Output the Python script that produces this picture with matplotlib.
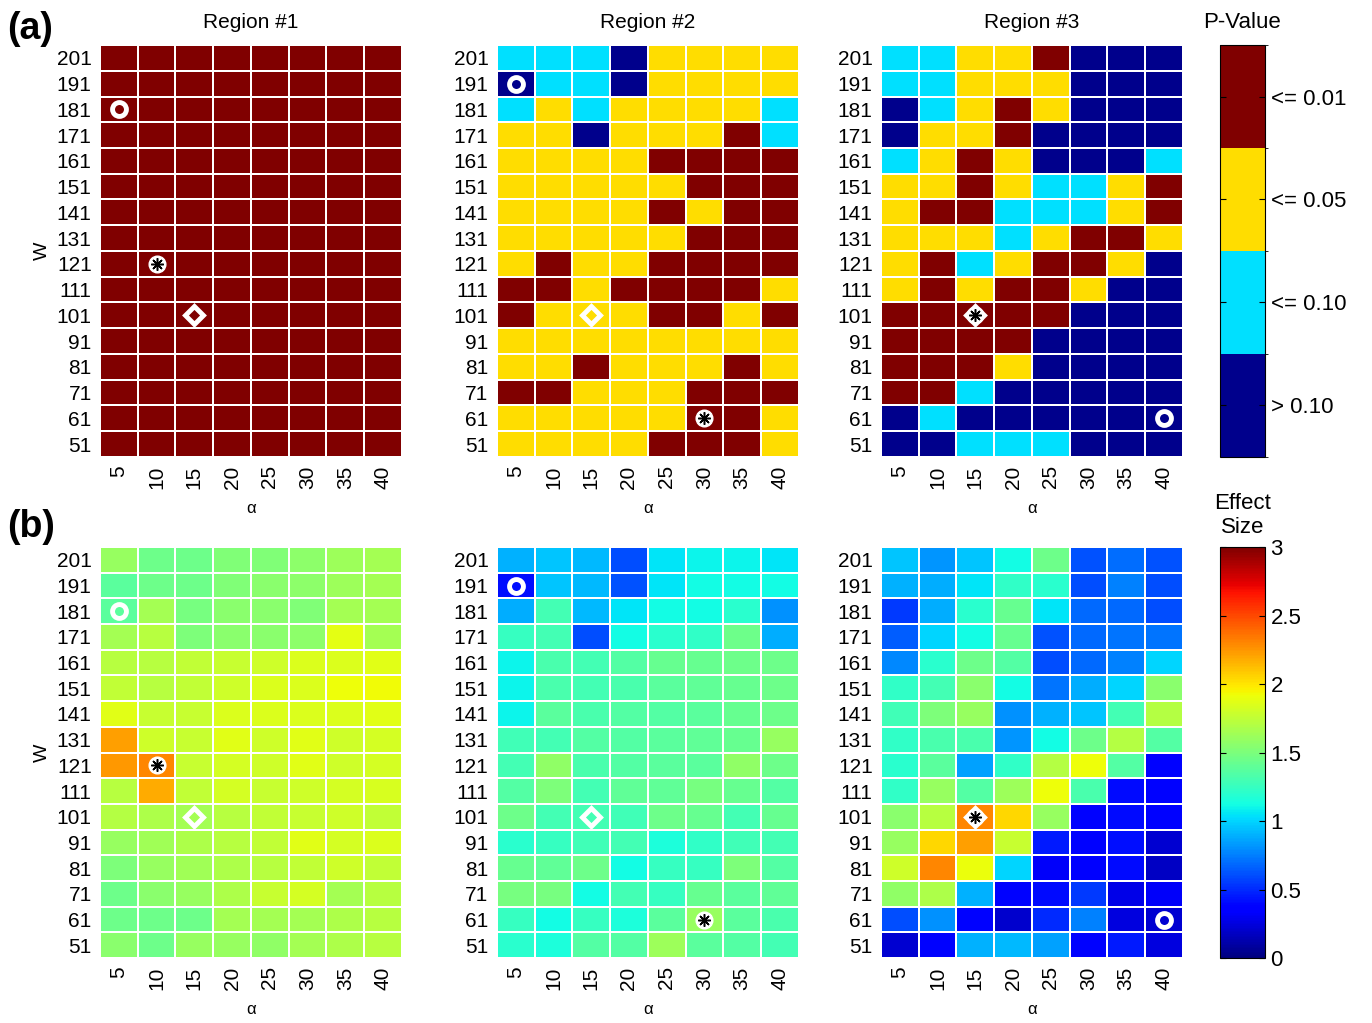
# Heatmaps of P-value categories (a) and effect size (b) over alpha and W
import matplotlib.pyplot as plt
from matplotlib.colors import ListedColormap, BoundaryNorm
import numpy as np

plt.rcParams['font.family'] = ['Liberation Sans', 'DejaVu Sans']

alphas = [5, 10, 15, 20, 25, 30, 35, 40]
w_vals = [201, 191, 181, 171, 161, 151, 141, 131, 121, 111, 101, 91, 81, 71, 61, 51]
regions = ['Region #1', 'Region #2', 'Region #3']

# P-value class: 0 = > 0.10, 1 = <= 0.10, 2 = <= 0.05, 3 = <= 0.01 (rows top to bottom, W = 201 ... 51)
pclass_r1 = [[3] * 8 for _ in range(16)]
pclass_r2 = [
    [1, 1, 1, 0, 2, 2, 2, 2],
    [0, 1, 1, 0, 2, 2, 2, 2],
    [1, 2, 1, 2, 2, 2, 2, 1],
    [2, 2, 0, 2, 2, 2, 3, 1],
    [2, 2, 2, 2, 3, 3, 3, 3],
    [2, 2, 2, 2, 2, 3, 3, 3],
    [2, 2, 2, 2, 3, 2, 3, 3],
    [2, 2, 2, 2, 2, 3, 3, 3],
    [2, 3, 2, 2, 3, 3, 3, 3],
    [3, 3, 2, 3, 3, 3, 3, 2],
    [3, 2, 2, 2, 3, 3, 2, 3],
    [2, 2, 2, 2, 2, 2, 2, 2],
    [2, 2, 3, 2, 2, 2, 3, 2],
    [3, 3, 2, 2, 2, 3, 3, 3],
    [2, 2, 2, 2, 2, 3, 3, 2],
    [2, 2, 2, 2, 3, 3, 3, 2],
]
pclass_r3 = [
    [1, 1, 2, 2, 3, 0, 0, 0],
    [1, 1, 2, 2, 2, 0, 0, 0],
    [0, 1, 2, 3, 2, 0, 0, 0],
    [0, 2, 2, 3, 0, 0, 0, 0],
    [1, 2, 3, 2, 0, 0, 0, 1],
    [2, 2, 3, 2, 1, 1, 2, 3],
    [2, 3, 3, 1, 1, 1, 2, 3],
    [2, 2, 2, 1, 2, 3, 3, 2],
    [2, 3, 1, 2, 3, 3, 2, 0],
    [2, 3, 2, 3, 3, 2, 0, 0],
    [3, 3, 3, 3, 3, 0, 0, 0],
    [3, 3, 3, 3, 0, 0, 0, 0],
    [3, 3, 3, 2, 0, 0, 0, 0],
    [3, 3, 1, 0, 0, 0, 0, 0],
    [0, 1, 0, 0, 0, 0, 0, 0],
    [0, 0, 1, 1, 1, 0, 0, 0],
]

# Effect size (rows top to bottom, W = 201 ... 51)
effect_r1 = [
    [1.60, 1.45, 1.45, 1.52, 1.52, 1.57, 1.62, 1.65],
    [1.38, 1.45, 1.45, 1.52, 1.55, 1.57, 1.62, 1.65],
    [1.38, 1.65, 1.48, 1.55, 1.55, 1.52, 1.65, 1.65],
    [1.65, 1.72, 1.50, 1.55, 1.55, 1.57, 1.88, 1.65],
    [1.72, 1.72, 1.75, 1.78, 1.80, 1.85, 1.85, 1.87],
    [1.75, 1.72, 1.75, 1.80, 1.85, 1.85, 1.92, 1.93],
    [1.87, 1.78, 1.78, 1.85, 1.85, 1.85, 1.85, 1.87],
    [2.22, 1.80, 1.78, 1.87, 1.80, 1.87, 1.80, 1.82],
    [2.24, 2.30, 1.78, 1.82, 1.80, 1.87, 1.80, 1.82],
    [1.72, 2.18, 1.75, 1.82, 1.78, 1.80, 1.82, 1.83],
    [1.70, 1.68, 1.65, 1.72, 1.75, 1.78, 1.80, 1.75],
    [1.60, 1.63, 1.68, 1.72, 1.75, 1.87, 1.82, 1.85],
    [1.50, 1.60, 1.63, 1.68, 1.72, 1.75, 1.80, 1.75],
    [1.45, 1.55, 1.60, 1.68, 1.78, 1.82, 1.65, 1.72],
    [1.45, 1.45, 1.45, 1.65, 1.65, 1.65, 1.68, 1.72],
    [1.55, 1.45, 1.60, 1.60, 1.58, 1.65, 1.68, 1.72],
]
effect_r2 = [
    [0.90, 0.95, 0.92, 0.60, 1.05, 1.10, 1.10, 1.05],
    [0.42, 0.95, 0.92, 0.62, 1.05, 1.12, 1.12, 1.12],
    [0.88, 1.30, 0.92, 1.05, 1.12, 1.12, 1.20, 0.80],
    [1.25, 1.30, 0.60, 1.12, 1.20, 1.22, 1.45, 0.88],
    [1.10, 1.32, 1.30, 1.35, 1.42, 1.42, 1.45, 1.45],
    [1.10, 1.32, 1.30, 1.32, 1.38, 1.40, 1.42, 1.45],
    [1.10, 1.38, 1.32, 1.35, 1.35, 1.38, 1.42, 1.45],
    [1.28, 1.30, 1.35, 1.35, 1.38, 1.40, 1.42, 1.60],
    [1.30, 1.58, 1.32, 1.35, 1.38, 1.38, 1.58, 1.45],
    [1.35, 1.50, 1.30, 1.40, 1.40, 1.48, 1.42, 1.35],
    [1.45, 1.30, 1.30, 1.28, 1.45, 1.42, 1.30, 1.42],
    [1.20, 1.25, 1.28, 1.30, 1.15, 1.22, 1.28, 1.30],
    [1.42, 1.40, 1.45, 1.12, 1.25, 1.25, 1.50, 1.35],
    [1.48, 1.48, 1.12, 1.30, 1.25, 1.42, 1.38, 1.40],
    [1.25, 1.12, 1.25, 1.15, 1.38, 1.60, 1.38, 1.32],
    [1.20, 1.15, 1.35, 1.35, 1.62, 1.38, 1.35, 1.30],
]
effect_r3 = [
    [0.95, 0.82, 0.95, 1.12, 1.45, 0.62, 0.70, 0.62],
    [0.90, 0.88, 1.05, 1.22, 1.20, 0.60, 0.75, 0.60],
    [0.55, 0.88, 1.20, 1.42, 1.05, 0.68, 0.68, 0.60],
    [0.65, 1.00, 1.12, 1.42, 0.62, 0.68, 0.72, 0.72],
    [0.78, 1.20, 1.45, 1.35, 0.60, 0.68, 0.75, 1.00],
    [1.22, 1.30, 1.55, 1.12, 0.72, 0.88, 1.00, 1.55],
    [1.28, 1.50, 1.60, 0.80, 0.90, 0.95, 1.30, 1.70],
    [1.22, 1.32, 1.32, 0.82, 1.12, 1.45, 1.70, 1.35],
    [1.20, 1.38, 0.85, 1.22, 1.70, 1.92, 1.35, 0.38],
    [1.22, 1.60, 1.35, 1.62, 1.92, 1.32, 0.40, 0.38],
    [1.55, 1.72, 2.30, 2.05, 1.60, 0.38, 0.40, 0.38],
    [1.60, 2.05, 2.22, 1.78, 0.45, 0.38, 0.42, 0.22],
    [1.80, 2.30, 1.90, 1.00, 0.32, 0.35, 0.40, 0.18],
    [1.58, 1.68, 0.90, 0.38, 0.40, 0.55, 0.28, 0.32],
    [0.60, 0.80, 0.38, 0.20, 0.50, 0.75, 0.25, 0.22],
    [0.22, 0.38, 0.90, 0.92, 0.85, 0.38, 0.45, 0.25],
]

# marked settings per region: (alpha, W)
circle_pts = [(5, 181), (5, 191), (40, 61)]
star_pts = [(10, 121), (30, 61), (15, 101)]
diamond_pts = [(15, 101), (15, 101), (15, 101)]

p_labels = ['> 0.10', '<= 0.10', '<= 0.05', '<= 0.01']
p_colors = ['#00008c', '#00e0ff', '#ffdd00', '#800000']
p_cmap = ListedColormap(p_colors)
p_norm = BoundaryNorm([-0.5, 0.5, 1.5, 2.5, 3.5], 4)

fig = plt.figure(figsize=(13.72, 10.23), dpi=100)

lefts = [0.0729, 0.3622, 0.6421]
width = 0.2200
rows = [(0.5533, 0.4027), (0.0635, 0.4018)]

pdata = [pclass_r1, pclass_r2, pclass_r3]
edata = [effect_r1, effect_r2, effect_r3]


def draw_markers(ax, i):
    ca, cw = circle_pts[i]
    sa, sw = star_pts[i]
    da, dw = diamond_pts[i]
    ax.plot(alphas.index(da), w_vals.index(dw), marker='D', ms=9, mfc='none',
            mec='white', mew=3.5, zorder=3)
    ax.plot(alphas.index(sa), w_vals.index(sw), marker='o', ms=12, mfc='white',
            mec='white', zorder=4)
    ax.plot(alphas.index(sa), w_vals.index(sw), marker=(8, 2, 0), ms=9, mec='black',
            mew=1.1, zorder=5)
    ax.plot(alphas.index(ca), w_vals.index(cw), marker='o', ms=10, mfc='none',
            mec='white', mew=3.5, zorder=3)


def style_axes(ax, i):
    ax.set_xlim(-0.5, 7.5)
    ax.set_ylim(15.5, -0.5)
    ax.set_xticks(range(8))
    ax.set_xticklabels([str(a) for a in alphas], rotation=90, fontsize=15)
    ax.set_yticks(range(16))
    ax.set_yticklabels([str(w) for w in w_vals], fontsize=15)
    ax.tick_params(length=0, pad=6)
    for s in ax.spines.values():
        s.set_visible(False)
    ax.set_xlabel('α', fontsize=12, labelpad=9)
    if i == 0:
        ax.set_ylabel('W', fontsize=14, labelpad=4)


for r, (bottom, height) in enumerate(rows):
    for i in range(3):
        ax = fig.add_axes([lefts[i], bottom, width, height])
        if r == 0:
            mesh = ax.pcolormesh(np.arange(-0.5, 8), np.arange(-0.5, 16), np.array(pdata[i]),
                                 cmap=p_cmap, norm=p_norm, edgecolors='white', linewidth=1.2)
            ax.set_title(regions[i], fontsize=15, pad=12)
        else:
            mesh = ax.pcolormesh(np.arange(-0.5, 8), np.arange(-0.5, 16), np.array(edata[i]),
                                 cmap='jet', vmin=0, vmax=3, edgecolors='white', linewidth=1.2)
        style_axes(ax, i)
        draw_markers(ax, i)
        if i == 0 and r == 0:
            p_mesh = mesh
        if i == 0 and r == 1:
            e_mesh = mesh

# P-value colorbar
cax1 = fig.add_axes([0.8892, rows[0][0], 0.0328, rows[0][1]])
cb1 = fig.colorbar(p_mesh, cax=cax1, ticks=[0, 1, 2, 3])
cb1.set_ticklabels(p_labels)
cb1.ax.tick_params(labelsize=16, direction='in', length=4, left=True, pad=4)
cb1.outline.set_linewidth(0.8)
cax1.set_title('P-Value', fontsize=16, pad=12)

# effect size colorbar
cax2 = fig.add_axes([0.8892, rows[1][0], 0.0328, rows[1][1]])
cb2 = fig.colorbar(e_mesh, cax=cax2, ticks=[0, 0.5, 1, 1.5, 2, 2.5, 3])
cb2.set_ticklabels(['0', '0.5', '1', '1.5', '2', '2.5', '3'])
cb2.ax.tick_params(labelsize=16, direction='in', length=4, left=True, pad=4)
cb2.outline.set_linewidth(0.8)
cax2.set_title('Effect\nSize', fontsize=16, pad=10)

fig.text(0.005, 0.972, '(a)', fontsize=27, fontweight='bold', va='center')
fig.text(0.005, 0.485, '(b)', fontsize=27, fontweight='bold', va='center')

plt.savefig('out.png', dpi=100)
